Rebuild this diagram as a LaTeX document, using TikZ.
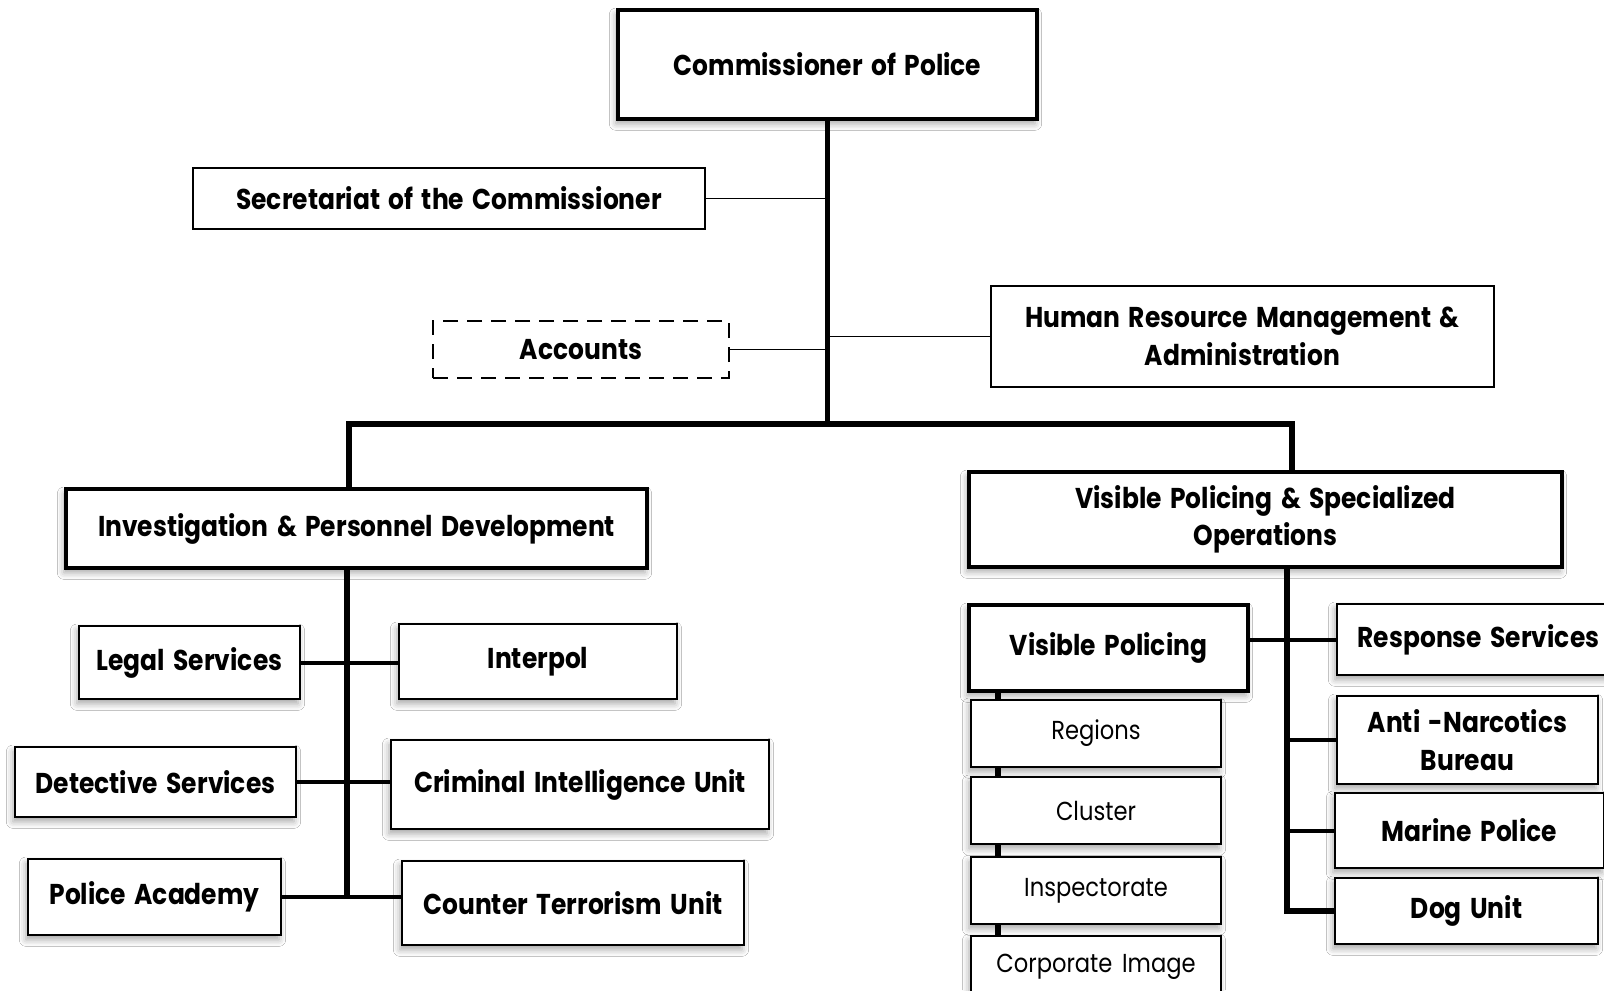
\documentclass[tikz,border=0pt]{standalone}
\usepackage{fontspec}
\setmainfont{Poppins}[FakeStretch=0.87, WordSpace=1.6]
\usetikzlibrary{shadows.blur,backgrounds}

\tikzset{
  sz/.style 2 args={minimum width=#1*0.75pt, minimum height=#2*0.75pt},
  unit/.style={draw, fill=white, inner sep=0pt, align=center, line width=2.2pt,
    font=\bfseries\fontsize{21.5}{28}\selectfont},
  plain unit/.style={unit, font=\fontsize{19.5}{27}\selectfont},
  soft/.style={blur shadow={shadow xshift=-1.5pt, shadow yshift=-3.5pt,
    shadow blur radius=5pt, shadow opacity=35}},
  head/.style={unit, line width=3pt, soft},
  sub/.style={unit, soft},
  staff/.style={unit, line width=1.6pt},
  trunk/.style={line width=4.2pt, line join=miter},
  branch/.style={line width=3pt},
  link/.style={line width=1.3pt},
}

\begin{document}
\begin{tikzpicture}[x=0.75pt,y=-0.75pt]
\useasboundingbox (0,0) rectangle (1604,990);

% top level and staff offices
\node[head, sz={419}{109}] (comm) at (827.5,64.5) {Commissioner of Police};
\node[staff, sz={512}{61}] (sec) at (449,198.5) {Secretariat of the Commissioner};
\node[staff, dashed, dash pattern=on 11pt off 7pt, line width=2pt, sz={296}{57}] (acc) at (581,349.5) {Accounts};
\node[staff, line width=2pt, sz={503}{101}] (hrm) at (1242.5,336.5) {Human Resource Management \&\\Administration};

% the two divisions
\node[head, sz={581}{79}] (ipd) at (356.5,528.5) {Investigation \& Personnel Development};
\node[head, sz={593}{95}] (vpso) at (1265.5,519.5) {Visible Policing \& Specialized\\Operations};

% investigation units
\node[sub, sz={221}{73}] (legal) at (189.5,662.5) {Legal Services};
\node[sub, sz={278}{75}] (interpol) at (538,661.5) {Interpol};
\node[sub, sz={281}{70}] (detective) at (155.5,782) {Detective Services};
\node[sub, sz={378}{89}] (ciu) at (580,784.5) {Criminal Intelligence Unit};
\node[sub, sz={253}{76}] (academy) at (154.5,897) {Police Academy};
\node[sub, sz={342}{84}] (ctu) at (573,903) {Counter Terrorism Unit};

% visible policing units
\node[sub, line width=2.6pt, sz={279}{86}] (vp) at (1108.5,648) {Visible Policing};
\node[plain unit, soft, sz={250}{67}] (regions) at (1096,733.5) {Regions};
\node[plain unit, soft, sz={250}{67}] (cluster) at (1096,810.5) {Cluster};
\node[plain unit, soft, sz={250}{67}] (insp) at (1096,890.5) {Inspectorate};
\node[plain unit, soft, sz={250}{62}] (corp) at (1096,967) {Corporate Image};

% specialized operations
\node[sub, sz={283}{71}] (resp) at (1478.5,639.5) {Response Services};
\node[sub, sz={261}{88}] (anti) at (1467.5,740) {Anti -Narcotics\\Bureau};
\node[sub, sz={269}{75}] (marine) at (1469.5,830.5) {Marine Police};
\node[sub, sz={263}{66}] (dog) at (1466.5,911) {Dog Unit};

% junction points of the connector lines
\coordinate (barL) at (349,424);
\coordinate (barR) at (1292,424);
\coordinate (lt) at (347,0);
\coordinate (rt) at (1287,0);
\coordinate (st) at (998,0);

\begin{pgfonlayer}{background}
  \fill[white] (0,0) rectangle (1604,990);
  % main trunk and division bar
  \draw[trunk] (comm.south) -- (comm.south |- barL);
  \draw[trunk] (ipd.north -| barL) -- (barL) -- (barR) -- (vpso.north -| barR);
  \draw[link] (sec.east) -- (sec.east -| comm.south);
  \draw[link] (acc.east) -- (acc.east -| comm.south);
  \draw[link] (hrm.west) -- (hrm.west -| comm.south);

  % investigation branch
  \draw[trunk] (ipd.south -| lt) -- (academy.east -| lt);
  \draw[branch] (legal.east) -- (legal.east -| interpol.west);
  \draw[branch] (detective.east) -- (detective.east -| ciu.west);
  \draw[branch] (academy.east) -- (academy.east -| ctu.west);

  % visible policing branch
  \draw[trunk] (vp.south -| st) -- (corp.south -| st);
  \draw[trunk] (vpso.south -| rt) |- (dog.west);
  \draw[branch] (resp.west -| vp.east) -- (resp.west);
  \draw[branch] (anti.west) -- (anti.west -| rt);
  \draw[branch] (marine.west) -- (marine.west -| rt);
\end{pgfonlayer}
\end{tikzpicture}
\end{document}
